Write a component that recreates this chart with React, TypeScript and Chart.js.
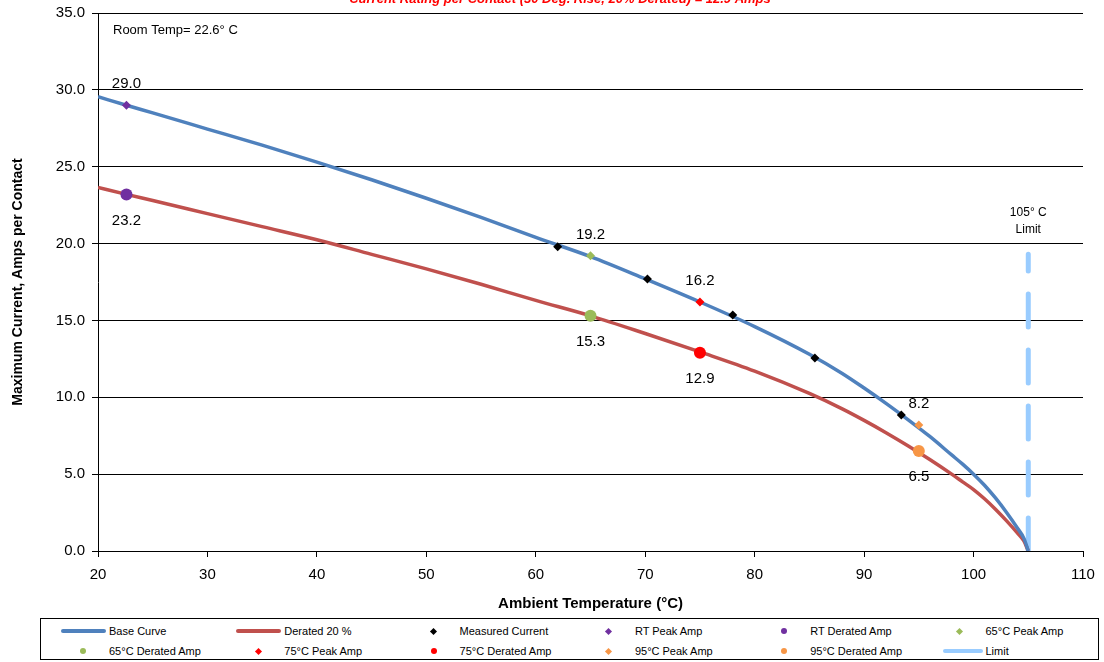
import React, { useEffect, useRef } from "react";
import { Chart, registerables } from "chart.js";

Chart.register(...registerables);

const FONT = "'Liberation Sans', Arial, Helvetica, sans-serif";

const TITLE = "Current Rating per Contact (30 Deg. Rise, 20% Derated) = 12.9 Amps";
const ROOM_TEMP = "Room Temp= 22.6\u00B0 C";
const LIMIT_LABEL = ["105\u00B0 C", "Limit"];
const X_TITLE = "Ambient Temperature (\u00B0C)";
const Y_TITLE = "Maximum Current, Amps per Contact";

// Base curve
const baseTemps = [20, 22.6, 25, 30, 35, 40, 45, 50, 55, 60, 65, 70, 75, 80, 85, 88, 90, 92, 94, 96, 98, 99, 100, 101, 102, 103, 104, 104.6, 105];
const baseAmps = [29.55, 29.0, 28.5, 27.45, 26.4, 25.3, 24.15, 22.95, 21.7, 20.4, 19.15, 17.7, 16.2, 14.6, 12.8, 11.55, 10.6, 9.6, 8.55, 7.45, 6.25, 5.65, 5.0, 4.28, 3.45, 2.52, 1.5, 0.82, 0];

// Derated 20 % curve
const deratedTemps = [20, 22.6, 25, 30, 35, 40, 45, 50, 55, 60, 65, 70, 75, 80, 85, 88, 90, 92, 94, 96, 98, 99, 100, 101, 102, 103, 104, 104.6, 105];
const deratedCurveAmps = [23.65, 23.2, 22.8, 21.95, 21.1, 20.25, 19.3, 18.35, 17.35, 16.3, 15.3, 14.15, 12.95, 11.7, 10.25, 9.25, 8.5, 7.7, 6.85, 5.95, 5.0, 4.5, 4.0, 3.4, 2.72, 1.98, 1.18, 0.65, 0];

// Measured current points
const measuredTemps = [62.0, 70.2, 78.0, 85.5, 93.4];
const measuredAmps = [19.8, 17.7, 15.35, 12.55, 8.85];

// RT / 65 / 75 / 95 °C points
const peakTemps = [22.6, 65, 75, 95];
const peakAmps = [29.0, 19.2, 16.2, 8.2];
const deratedAmps = [23.2, 15.3, 12.9, 6.5];
const pointColors = ["#7030A0", "#9BBB59", "#FF0000", "#F79646"];
const peakNames = ["RT Peak Amp", "65\u00B0C Peak Amp", "75\u00B0C Peak Amp", "95\u00B0C Peak Amp"];
const deratedNames = ["RT Derated Amp", "65\u00B0C Derated Amp", "75\u00B0C Derated Amp", "95\u00B0C Derated Amp"];

// Limit line
const limitTemps = [105, 105];
const limitAmps = [0, 19.3];

const X_MIN = 20, X_MAX = 110, X_STEP = 10;
const Y_MIN = 0, Y_MAX = 35, Y_STEP = 5;

const BLUE = "#4F81BD";
const RED = "#C0504D";
const LIMIT = "#99CCFF";

const zip = (xs: number[], ys: number[]) => xs.map((x, i) => ({ x, y: ys[i] }));

const annotPlugin = {
  id: "annot",
  afterDraw(chart: any) {
    const { ctx, scales } = chart;
    const x = scales.x, y = scales.y;
    ctx.save();
    // Title (clipped at top)
    ctx.fillStyle = "#FF0000";
    ctx.font = `italic bold 13px ${FONT}`;
    ctx.textAlign = "center";
    ctx.textBaseline = "alphabetic";
    ctx.fillText(TITLE, 560, 2.5);
    // Room temp
    ctx.fillStyle = "#000";
    ctx.font = `13px ${FONT}`;
    ctx.textAlign = "left";
    ctx.textBaseline = "middle";
    ctx.fillText(ROOM_TEMP, x.left + 15, y.top + 17);
    // Limit label
    const lx = x.getPixelForValue(limitTemps[1]);
    const ly = y.getPixelForValue(limitAmps[1]);
    ctx.font = `12px ${FONT}`;
    ctx.textAlign = "center";
    ctx.fillText(LIMIT_LABEL[0], lx, ly - 42);
    ctx.fillText(LIMIT_LABEL[1], lx, ly - 25);
    // Data labels
    ctx.font = `15px ${FONT}`;
    peakTemps.forEach((t, i) => {
      const px = x.getPixelForValue(t);
      ctx.fillText(peakAmps[i].toFixed(1), px, y.getPixelForValue(peakAmps[i]) - 21);
      ctx.fillText(deratedAmps[i].toFixed(1), px, y.getPixelForValue(deratedAmps[i]) + 26);
    });
    ctx.restore();
  },
};

type LegendItem = { label: string; kind: "line" | "diamond" | "circle"; color: string };

const legendItems: LegendItem[] = [
  { label: "Base Curve", kind: "line", color: BLUE },
  { label: "Derated 20 %", kind: "line", color: RED },
  { label: "Measured Current", kind: "diamond", color: "#000" },
  { label: peakNames[0], kind: "diamond", color: pointColors[0] },
  { label: deratedNames[0], kind: "circle", color: pointColors[0] },
  { label: peakNames[1], kind: "diamond", color: pointColors[1] },
  { label: deratedNames[1], kind: "circle", color: pointColors[1] },
  { label: peakNames[2], kind: "diamond", color: pointColors[2] },
  { label: deratedNames[2], kind: "circle", color: pointColors[2] },
  { label: peakNames[3], kind: "diamond", color: pointColors[3] },
  { label: deratedNames[3], kind: "circle", color: pointColors[3] },
  { label: "Limit", kind: "line", color: LIMIT },
];

function Legend() {
  const colW = 175.3;
  return (
    <div
      style={{
        position: "absolute",
        left: 40,
        top: 618,
        width: 1059,
        height: 42,
        border: "1px solid #000",
        boxSizing: "border-box",
        fontFamily: FONT,
        fontSize: 11,
        color: "#000",
        background: "#fff",
      }}
    >
      {legendItems.map((it, i) => {
        const col = i % 6;
        const row = Math.floor(i / 6);
        const cx = 82 + colW * col - 40;
        const cy = 12 + row * 20;
        let sym: React.ReactNode = null;
        if (it.kind === "line") {
          const w = it.label === "Limit" ? 40 : 45;
          sym = (
            <div
              style={{
                position: "absolute",
                left: cx - w / 2 - (it.label === "Limit" ? -3 : 0),
                top: cy - 2,
                width: w,
                height: 3.5,
                borderRadius: 2,
                background: it.color,
              }}
            />
          );
        } else if (it.kind === "diamond") {
          sym = (
            <div
              style={{
                position: "absolute",
                left: cx - 2.5,
                top: cy - 2.5,
                width: 5,
                height: 5,
                background: it.color,
                transform: "rotate(45deg)",
              }}
            />
          );
        } else {
          sym = (
            <div
              style={{
                position: "absolute",
                left: cx - 3,
                top: cy - 3,
                width: 6,
                height: 6,
                borderRadius: 3,
                background: it.color,
              }}
            />
          );
        }
        return (
          <React.Fragment key={i}>
            {sym}
            <div
              style={{
                position: "absolute",
                left: 108 + colW * col - 40,
                top: cy - 7,
                lineHeight: "14px",
                whiteSpace: "nowrap",
              }}
            >
              {it.label}
            </div>
          </React.Fragment>
        );
      })}
    </div>
  );
}

export default function App() {
  const ref = useRef<HTMLCanvasElement | null>(null);

  useEffect(() => {
    if (!ref.current) return;
    const datasets: any[] = [];
    peakTemps.forEach((t, i) => {
      datasets.push({
        label: peakNames[i],
        data: [{ x: t, y: peakAmps[i] }],
        pointStyle: "rectRot",
        pointRadius: 4.5,
        backgroundColor: pointColors[i],
        borderColor: pointColors[i],
        borderWidth: 0,
        showLine: false,
        order: 1,
      });
      datasets.push({
        label: deratedNames[i],
        data: [{ x: t, y: deratedAmps[i] }],
        pointStyle: "circle",
        pointRadius: 6,
        backgroundColor: pointColors[i],
        borderColor: pointColors[i],
        borderWidth: 0,
        showLine: false,
        order: 1,
      });
    });
    datasets.push({
      label: "Measured Current",
      data: zip(measuredTemps, measuredAmps),
      pointStyle: "rectRot",
      pointRadius: 4.5,
      backgroundColor: "#000",
      borderColor: "#000",
      borderWidth: 0,
      showLine: false,
      order: 2,
    });
    datasets.push({
      label: "Base Curve",
      data: zip(baseTemps, baseAmps),
      showLine: true,
      borderColor: BLUE,
      borderWidth: 3.5,
      pointRadius: 0,
      cubicInterpolationMode: "monotone",
      order: 5,
    });
    datasets.push({
      label: "Derated 20 %",
      data: zip(deratedTemps, deratedCurveAmps),
      showLine: true,
      borderColor: RED,
      borderWidth: 3.5,
      pointRadius: 0,
      cubicInterpolationMode: "monotone",
      order: 6,
    });
    datasets.push({
      label: "Limit",
      data: zip(limitTemps, limitAmps),
      showLine: true,
      borderColor: LIMIT,
      borderWidth: 5,
      borderDash: [33, 23],
      borderCapStyle: "round",
      pointRadius: 0,
      order: 7,
    });

    const chart = new Chart(ref.current, {
      type: "scatter",
      data: { datasets },
      options: {
        responsive: false,
        animation: false,
        devicePixelRatio: 1,
        layout: { padding: { left: 0, right: 21, top: 13, bottom: 49 } },
        plugins: { legend: { display: false }, tooltip: { enabled: false }, title: { display: false } },
        scales: {
          x: {
            type: "linear",
            min: X_MIN,
            max: X_MAX,
            ticks: {
              stepSize: X_STEP,
              color: "#000",
              font: { family: FONT, size: 15 },
              padding: 9,
              maxRotation: 0,
            },
            grid: { drawOnChartArea: false, drawTicks: true, tickLength: 6, color: "#000", tickColor: "#000" },
            border: { display: true, color: "#000", width: 1 },
            title: {
              display: true,
              text: X_TITLE,
              color: "#000",
              font: { family: FONT, size: 15, weight: "bold" },
              padding: { top: 0, bottom: 0 },
            },
            afterFit(scale: any) {
              scale.height = 62;
            },
          },
          y: {
            type: "linear",
            min: Y_MIN,
            max: Y_MAX,
            ticks: {
              stepSize: Y_STEP,
              color: "#000",
              font: { family: FONT, size: 15 },
              padding: 7,
              callback: (v: any) => Number(v).toFixed(1),
            },
            grid: { drawOnChartArea: true, drawTicks: true, tickLength: 6, color: "#000", tickColor: "#000", lineWidth: 1 },
            border: { display: true, color: "#000", width: 1 },
            title: {
              display: true,
              text: Y_TITLE,
              color: "#000",
              font: { family: FONT, size: 14, weight: "bold" },
              padding: { top: 10, bottom: 0 },
            },
            afterFit(scale: any) {
              scale.width = 98;
              scale.paddingTop = 0;
              scale.paddingBottom = 0;
            },
          },
        },
      },
      plugins: [annotPlugin],
    });
    return () => chart.destroy();
  }, []);

  return (
    <div style={{ position: "absolute", left: 0, top: 0, width: 1104, height: 662, background: "#fff", overflow: "hidden" }}>
      <canvas ref={ref} width={1104} height={662} style={{ position: "absolute", left: 0, top: 0, width: 1104, height: 662 }} />
      <Legend />
    </div>
  );
}
